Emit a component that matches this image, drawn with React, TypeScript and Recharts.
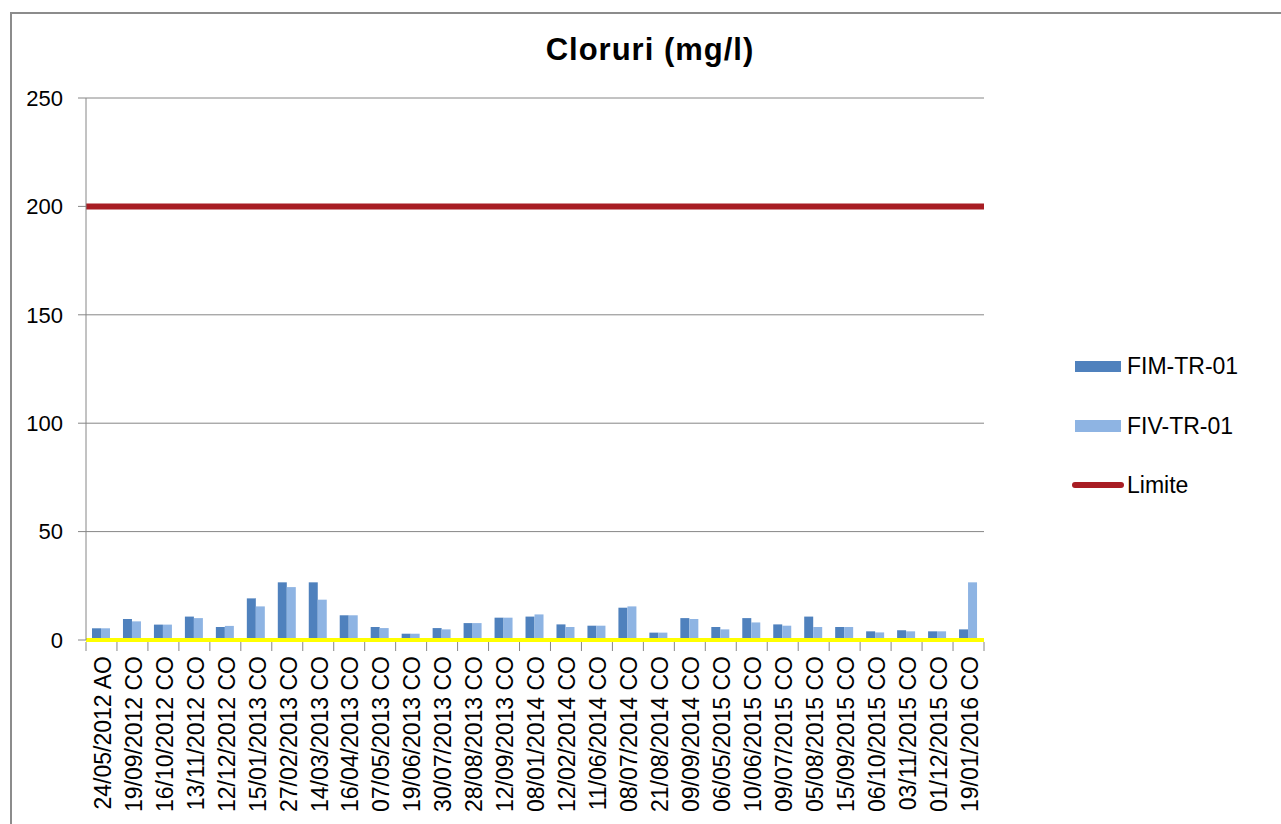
import {
  ComposedChart,
  Bar,
  XAxis,
  YAxis,
  CartesianGrid,
  ReferenceLine,
  Legend,
} from "recharts";

const CATEGORIES = [
  "24/05/2012 AO",
  "19/09/2012 CO",
  "16/10/2012 CO",
  "13/11/2012 CO",
  "12/12/2012 CO",
  "15/01/2013 CO",
  "27/02/2013 CO",
  "14/03/2013 CO",
  "16/04/2013 CO",
  "07/05/2013 CO",
  "19/06/2013 CO",
  "30/07/2013 CO",
  "28/08/2013 CO",
  "12/09/2013 CO",
  "08/01/2014 CO",
  "12/02/2014 CO",
  "11/06/2014 CO",
  "08/07/2014 CO",
  "21/08/2014 CO",
  "09/09/2014 CO",
  "06/05/2015 CO",
  "10/06/2015 CO",
  "09/07/2015 CO",
  "05/08/2015 CO",
  "15/09/2015 CO",
  "06/10/2015 CO",
  "03/11/2015 CO",
  "01/12/2015 CO",
  "19/01/2016 CO",
];

const FIM_TR_01 = [
  5.4, 9.7, 7.1, 10.8, 6.0, 19.2, 26.6, 26.6, 11.4, 6.0, 2.9, 5.5, 7.8, 10.3,
  10.8, 7.2, 6.6, 14.9, 3.4, 10.1, 6.0, 10.1, 7.2, 10.8, 6.0, 4.0, 4.5, 4.0, 4.9,
];

const FIV_TR_01 = [
  5.4, 8.6, 7.1, 10.1, 6.5, 15.5, 24.4, 18.6, 11.4, 5.5, 2.9, 4.9, 7.8, 10.3,
  11.8, 6.0, 6.6, 15.5, 3.4, 9.7, 4.9, 8.1, 6.6, 6.0, 6.0, 3.5, 4.0, 4.0, 26.6,
];

const LIMITE = 200;
const Y_TICKS = [0, 50, 100, 150, 200, 250];

const FONT = "'Liberation Sans', Arial, sans-serif";
const C_FIM = "#4F81BD";
const C_FIV = "#8EB4E3";
const C_LIM = "#A81D23";
const GRID = "#868686";

const PLOT_LEFT = 86;
const PLOT_RIGHT = 984;

const data = CATEGORIES.map((c, i) => ({
  cat: c,
  fim: FIM_TR_01[i],
  fiv: FIV_TR_01[i],
}));

const DateTick = (props: any) => {
  const { x, y, payload, index } = props;
  const half =
    (payload && payload.offset) ||
    (PLOT_RIGHT - PLOT_LEFT) / CATEGORIES.length / 2;
  const ty = y + 16;
  return (
    <g>
      {index === 0 && (
        <line x1={x - half} x2={x - half} y1={y + 2} y2={y + 11} stroke={GRID} />
      )}
      <line x1={x + half} x2={x + half} y1={y + 2} y2={y + 11} stroke={GRID} />
      <text
        x={x + 1}
        y={ty}
        dy="0.36em"
        textAnchor="end"
        transform={`rotate(-90 ${x + 1} ${ty})`}
        fontSize={23}
        fontFamily={FONT}
        fill="#000"
      >
        {payload.value}
      </text>
    </g>
  );
};

const LegendBox = () => (
  <svg width={220} height={170} style={{ display: "block" }}>
    <rect x={15} y={21} width={46} height={11} fill={C_FIM} />
    <text x={67} y={26} dy="0.36em" fontSize={23} fontFamily={FONT} fill="#000">
      FIM-TR-01
    </text>
    <rect x={15} y={80} width={46} height={12} fill={C_FIV} />
    <text x={67} y={86} dy="0.36em" fontSize={23} fontFamily={FONT} fill="#000">
      FIV-TR-01
    </text>
    <line
      x1={15}
      x2={61}
      y1={145}
      y2={145}
      stroke={C_LIM}
      strokeWidth={6}
      strokeLinecap="round"
    />
    <text x={67} y={145} dy="0.36em" fontSize={23} fontFamily={FONT} fill="#000">
      Limite
    </text>
  </svg>
);

export default function App() {
  return (
    <div>
      <div
        style={{
          position: "absolute",
          left: 10,
          top: 12,
          width: 1300,
          height: 840,
          border: "2px solid #8c8c8c",
          boxSizing: "border-box",
          background: "#fff",
        }}
      />
      <div
        style={{
          position: "absolute",
          left: 400,
          top: 33,
          width: 500,
          textAlign: "center",
          fontFamily: FONT,
          fontWeight: "bold",
          fontSize: 31,
          lineHeight: "34px",
          color: "#000",
          letterSpacing: 1,
        }}
      >
        Cloruri (mg/l)
      </div>
      <div style={{ position: "absolute", left: 0, top: 0 }}>
        <ComposedChart
          width={1281}
          height={824}
          data={data}
          margin={{ top: 98, right: 1281 - PLOT_RIGHT, bottom: 0, left: 10 }}
          barGap={0}
        >
          <CartesianGrid vertical={false} stroke={GRID} />
          <XAxis
            dataKey="cat"
            interval={0}
            height={184}
            tickSize={0}
            tickMargin={0}
            tickLine={false}
            axisLine={{ stroke: "#FFFF00", strokeWidth: 4 }}
            tick={<DateTick />}
          />
          <YAxis
            domain={[0, 250]}
            ticks={Y_TICKS}
            width={76}
            tickSize={8}
            tickMargin={15}
            axisLine={{ stroke: GRID }}
            tickLine={{ stroke: GRID }}
            tick={{ fontSize: 22, fontFamily: FONT, fill: "#000" }}
          />
          <Bar
            dataKey="fim"
            name="FIM-TR-01"
            fill={C_FIM}
            barSize={9}
            isAnimationActive={false}
          />
          <Bar
            dataKey="fiv"
            name="FIV-TR-01"
            fill={C_FIV}
            barSize={9}
            isAnimationActive={false}
          />
          <ReferenceLine y={LIMITE} stroke={C_LIM} strokeWidth={6} />
          <Legend
            layout="horizontal"
            align="center"
            verticalAlign="middle"
            content={<LegendBox />}
            wrapperStyle={{ left: 1060, top: 340, width: 220, height: 170 }}
          />
        </ComposedChart>
      </div>
    </div>
  );
}
